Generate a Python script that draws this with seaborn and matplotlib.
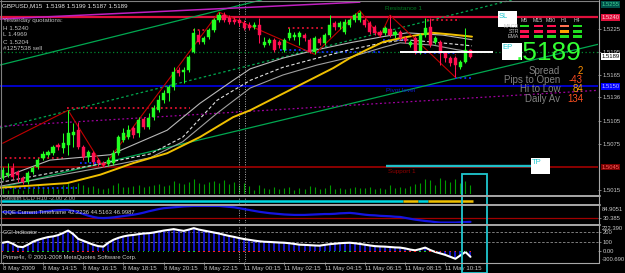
import matplotlib
matplotlib.use("Agg")
import matplotlib.pyplot as plt
from matplotlib.patches import Rectangle
from matplotlib.transforms import blended_transform_factory
import numpy as np
import pandas as pd
import seaborn as sns

sns.set_theme(style="dark", rc={"axes.facecolor": "black", "figure.facecolor": "black"})
plt.rcParams['font.family'] = ['Liberation Sans', 'DejaVu Sans']

# ---------------- data ----------------
symbol_header = "GBPUSD,M15  1.5198 1.5199 1.5187 1.5189"
yesterday_lines = ["Yesterday quotations:", "H 1.5240", "L 1.4969", "C 1.5204", "#1257538 sell"]

time_label_bars = [0, 8, 16, 24, 32, 40, 48, 56, 64, 72, 80, 88]
time_labels = ["8 May 2009", "8 May 14:15", "8 May 16:15", "8 May 18:15", "8 May 20:15",
               "8 May 22:15", "11 May 00:15", "11 May 02:15", "11 May 04:15",
               "11 May 06:15", "11 May 08:15", "11 May 10:15"]
day_separator_bars = [47.0, 48.2]

opens = [1.5031, 1.5035, 1.5044, 1.5038, 1.5031, 1.5025, 1.5038, 1.5045, 1.5057, 1.5061,
         1.5063, 1.5074, 1.5070, 1.5074, 1.5087, 1.5093, 1.5071, 1.5058, 1.5063, 1.5054,
         1.5050, 1.5049, 1.5050, 1.5063, 1.5080, 1.5084, 1.5096, 1.5089, 1.5108, 1.5097,
         1.5110, 1.5119, 1.5132, 1.5142, 1.5149, 1.5172, 1.5169, 1.5172, 1.5195, 1.5217,
         1.5208, 1.5215, 1.5224, 1.5237, 1.5243, 1.5239, 1.5237, 1.5237, 1.5233, 1.5230,
         1.5228, 1.5230, 1.5204, 1.5207, 1.5211, 1.5208, 1.5198, 1.5213, 1.5215, 1.5215,
         1.5217, 1.5211, 1.5195, 1.5212, 1.5207, 1.5217, 1.5233, 1.5228, 1.5221, 1.5230,
         1.5237, 1.5237, 1.5237, 1.5233, 1.5228, 1.5221, 1.5220, 1.5225, 1.5217, 1.5221,
         1.5213, 1.5204, 1.5213, 1.5195, 1.5217, 1.5228, 1.5208, 1.5208, 1.5194, 1.5187,
         1.5187, 1.5175, 1.5182, 1.5198]
highs = [1.5045, 1.5050, 1.5050, 1.5041, 1.5033, 1.5040, 1.5046, 1.5057, 1.5066, 1.5067,
         1.5074, 1.5076, 1.5089, 1.5119, 1.5102, 1.5104, 1.5074, 1.5067, 1.5066, 1.5057,
         1.5053, 1.5058, 1.5067, 1.5087, 1.5096, 1.5100, 1.5098, 1.5110, 1.5110, 1.5115,
         1.5126, 1.5139, 1.5145, 1.5152, 1.5175, 1.5175, 1.5175, 1.5191, 1.5226, 1.5224,
         1.5216, 1.5226, 1.5239, 1.5247, 1.5247, 1.5243, 1.5241, 1.5239, 1.5237, 1.5234,
         1.5234, 1.5239, 1.5215, 1.5213, 1.5213, 1.5211, 1.5213, 1.5226, 1.5221, 1.5222,
         1.5220, 1.5213, 1.5216, 1.5215, 1.5220, 1.5243, 1.5235, 1.5235, 1.5238, 1.5239,
         1.5246, 1.5249, 1.5239, 1.5235, 1.5230, 1.5224, 1.5229, 1.5243, 1.5224, 1.5224,
         1.5216, 1.5211, 1.5216, 1.5220, 1.5239, 1.5239, 1.5216, 1.5211, 1.5196, 1.5190,
         1.5190, 1.5185, 1.5226, 1.5199]
lows = [1.5028, 1.5032, 1.5029, 1.5025, 1.5023, 1.5023, 1.5036, 1.5042, 1.5054, 1.5058,
        1.5061, 1.5067, 1.5063, 1.5061, 1.5071, 1.5068, 1.5054, 1.5051, 1.5049, 1.5046,
        1.5045, 1.5046, 1.5048, 1.5061, 1.5078, 1.5082, 1.5083, 1.5084, 1.5095, 1.5095,
        1.5106, 1.5117, 1.5128, 1.5131, 1.5145, 1.5164, 1.5155, 1.5169, 1.5194, 1.5205,
        1.5205, 1.5212, 1.5221, 1.5234, 1.5234, 1.5232, 1.5232, 1.5229, 1.5224, 1.5224,
        1.5225, 1.5207, 1.5201, 1.5204, 1.5195, 1.5200, 1.5195, 1.5211, 1.5211, 1.5204,
        1.5209, 1.5194, 1.5192, 1.5204, 1.5204, 1.5215, 1.5224, 1.5225, 1.5218, 1.5228,
        1.5234, 1.5234, 1.5228, 1.5218, 1.5217, 1.5215, 1.5217, 1.5215, 1.5213, 1.5211,
        1.5207, 1.5201, 1.5192, 1.5192, 1.5215, 1.5201, 1.5205, 1.5178, 1.5182, 1.5177,
        1.5162, 1.5173, 1.5181, 1.5187]
closes = [1.5041, 1.5037, 1.5032, 1.5035, 1.5025, 1.5037, 1.5044, 1.5054, 1.5062, 1.5065,
          1.5071, 1.5071, 1.5076, 1.5089, 1.5091, 1.5071, 1.5058, 1.5065, 1.5051, 1.5050,
          1.5048, 1.5054, 1.5063, 1.5084, 1.5089, 1.5093, 1.5087, 1.5106, 1.5097, 1.5109,
          1.5122, 1.5132, 1.5142, 1.5149, 1.5169, 1.5168, 1.5172, 1.5188, 1.5220, 1.5208,
          1.5213, 1.5224, 1.5237, 1.5243, 1.5237, 1.5234, 1.5234, 1.5233, 1.5226, 1.5226,
          1.5230, 1.5217, 1.5208, 1.5211, 1.5198, 1.5204, 1.5211, 1.5220, 1.5217, 1.5220,
          1.5213, 1.5195, 1.5213, 1.5207, 1.5217, 1.5230, 1.5228, 1.5233, 1.5234, 1.5237,
          1.5243, 1.5246, 1.5230, 1.5221, 1.5220, 1.5217, 1.5226, 1.5217, 1.5221, 1.5213,
          1.5209, 1.5208, 1.5195, 1.5217, 1.5226, 1.5204, 1.5213, 1.5194, 1.5187, 1.5181,
          1.5178, 1.5182, 1.5198, 1.5189]
volumes = [60, 40, 70, 50, 45, 80, 60, 90, 70, 60,
           75, 55, 90, 120, 80, 110, 95, 70, 85, 60,
           55, 65, 90, 110, 75, 70, 85, 95, 70, 80,
           90, 100, 85, 95, 130, 110, 100, 120, 150, 110,
           100, 120, 130, 110, 140, 100, 120, 90, 110, 80,
           40, 90, 60, 50, 70, 50, 60, 70, 45, 60,
           50, 80, 70, 50, 60, 90, 50, 60, 55, 60,
           70, 65, 60, 70, 55, 60, 50, 90, 60, 70,
           60, 80, 100, 110, 150, 140, 90, 160, 140, 120,
           150, 110, 130, 90]

# moving averages / bands (anchor points: bar index, price)
ma_yellow_bar = [-0.5, 12.8, 19.4, 25.9, 32.7, 39.2, 45.8, 49.2, 59.1, 65.7, 69.0, 72.4, 75.6, 79.0, 82.4, 85.5, 88.9, 93.3]
ma_yellow = [1.5018, 1.5024, 1.5035, 1.5050, 1.5063, 1.5084, 1.5110, 1.5119, 1.5152, 1.5174, 1.5187, 1.5198, 1.5208, 1.5213, 1.5217, 1.5220, 1.5218, 1.5215]
band_up_bar = [-0.5, 9.4, 21.4, 32.7, 39.2, 45.8, 49.2, 55.7, 62.5, 69.0, 75.6, 80.4, 87.5, 93.3]
band_up = [1.5030, 1.5054, 1.5061, 1.5093, 1.5128, 1.5158, 1.5173, 1.5187, 1.5198, 1.5207, 1.5215, 1.5220, 1.5217, 1.5211]
band_mid_bar = [-0.5, 19.4, 29.3, 35.8, 42.6, 49.2, 55.7, 62.5, 69.0, 75.6, 80.0, 85.5, 93.3]
band_mid = [1.5025, 1.5049, 1.5062, 1.5084, 1.5132, 1.5158, 1.5175, 1.5187, 1.5198, 1.5207, 1.5211, 1.5208, 1.5203]
band_low_bar = [-0.5, 19.4, 29.3, 35.8, 42.6, 49.2, 55.7, 62.5, 69.0, 75.6, 79.0, 85.5, 90.3, 93.3]
band_low = [1.5020, 1.5044, 1.5057, 1.5078, 1.5115, 1.5148, 1.5165, 1.5178, 1.5188, 1.5201, 1.5207, 1.5204, 1.5198, 1.5195]

zigzag_bar = [0, 13, 20, 43, 62, 71, 75, 77, 90]
zigzag_price = [1.5076, 1.5119, 1.5045, 1.5247, 1.5192, 1.5249, 1.5215, 1.5243, 1.5162]

# trend lines (bars, prices)
trend_upper = ([-0.54, 51.5], [1.5178, 1.5263])
trend_middle = ([-0.54, 101.3], [1.5096, 1.5263])
trend_lower = ([-0.54, 118.35], [1.5018, 1.5205])
trend_magenta = ([-0.54, 71.0], [1.5238, 1.5260])
trend_magenta_dot = ([-0.54, 118.35], [1.5098, 1.5145])

# horizontal levels
resistance1 = 1.5240
pivot_level = 1.5150
support1 = 1.5045
green_dotted_level = 1.5195

frac_res_start = [0.5, 12.8, 37.8, 56.7, 84.4]
frac_res_end = [12.0, 37.3, 40.7, 63.7, 90.9]
frac_res_price = [1.5057, 1.5122, 1.5224, 1.5226, 1.5237]
frac_sup_start = [0.5, 15.4, 55.1, 62.5, 75.6, 82.0, 89.9]
frac_sup_end = [14.8, 19.3, 60.5, 75.0, 80.0, 89.9, 93.3]
frac_sup_price = [1.5018, 1.5050, 1.5198, 1.5195, 1.5211, 1.5194, 1.5161]

# trade levels
ep_price, ep_start, ep_end = 1.5195, 79.0, 97.5
tp_price, tp_start, tp_end = 1.5046, 76.2, 105.0

# right axis labels
price_ticks = [1.5225, 1.5195, 1.5165, 1.5136, 1.5105, 1.5075, 1.5015]
marked_prices = [1.5257, 1.5240, 1.5189, 1.5150, 1.5045]
marked_labels = ["1.5255", "1.5240", "1.5189", "1.5150", "1.5045"]
marked_bg = ["#00504a", "#e0103c", "#ffffff", "#0000ff", "#7a0000"]
marked_fg = ["#40d090", "#ffd0d8", "#000000", "#c0c0ff", "#ff6060"]

# info panel
info_labels = ["Spread", "Pips to Open", "Hi to Low", "Daily Av"]
info_values = ["2", "-43", "84", "134"]
info_colors = ["#ff9000", "#ff4a20", "#ffa000", "#ff5020"]
big_price = ".5189"
signal_tfs = ["M5", "M15", "M30", "H1", "H4"]
signal_rows = ["MACD", "STR", "EMA"]
signal_colors = [["#20e020", "#ff1050", "#ff1050", "#ff7050", "#20e020"],
                 ["#ff1050", "#ff1050", "#ff1050", "#ffa000", "#20e020"],
                 ["#ff1050", "#20e020", "#20e020", "#20e020", "#20e020"]]

# indicator panels
stealth_seg_start = [-0.5, 79.5, 82.5, 84.5]
stealth_seg_end = [79.5, 82.5, 84.5, 93.5]
stealth_seg_color = ["#00d8e0", "#f0c000", "#00d8e0", "#f0c000"]

qqe = [59, 58, 57, 56, 56, 55, 55, 57, 60, 63,
       65, 67, 68, 68, 64, 58, 50, 43, 37, 33,
       32, 33, 35, 38, 41, 44, 47, 51, 56, 62,
       67, 72, 76, 78, 80, 82, 84, 85, 86, 86,
       86, 86, 86, 86, 84, 82, 80, 76, 72, 68,
       64, 60, 57, 54, 52, 50, 48, 47, 46, 46,
       46, 47, 48, 49, 50, 50, 51, 53, 54, 55,
       53, 50, 47, 45, 44, 42, 41, 40, 38, 37,
       33, 29, 25, 22, 19, 17, 14, 12, 12, 12,
       12, 13, 14, 15]
qqe_level = 30.385

cci = [90, 100, 80, 50, 45, 70, 100, 120, 135, 148,
       155, 168, 190, 215, 180, 130, 110, 90, 70, 55,
       50, 90, 120, 140, 155, 165, 170, 178, 185, 188,
       195, 205, 215, 222, 230, 220, 212, 225, 240, 225,
       215, 205, 195, 185, 172, 160, 150, 138, 128, 120,
       112, 105, 100, 98, 95, 92, 90, 85, 78, 70,
       68, 65, 62, 60, 68, 75, 80, 85, 88, 90,
       85, 78, 70, 62, 55, 52, 50, 46, 42, 40,
       32, 20, 12, 25, 40, 15, -5, -20, -35, -55,
       -75, -40, -5, -55]
cci_levels = [200, 100]

# ---------------- figure ----------------
W, H = 625, 273
fig = plt.figure(figsize=(6.25, 2.73), dpi=100, facecolor='black')


def fa(x0, y0, x1, y1):
    return [x0 / W, 1 - y1 / H, (x1 - x0) / W, (y1 - y0) / H]


XMIN, XMAX = -0.54, 118.35
PMIN, PMAX = 1.50098, 1.52628
GRAYTXT = '#c8c8c8'
BULL, BEAR = '#22ff22', '#ff1050'

ax_vol = fig.add_axes(fa(0, 0, 598, 194))
ax = fig.add_axes(fa(0, 0, 598, 194))
ax_st = fig.add_axes(fa(0, 197, 598, 203.5))
ax_q = fig.add_axes(fa(0, 205.5, 598, 223))
ax_c = fig.add_axes(fa(0, 226, 598, 262))
ov = fig.add_axes([0, 0, 1, 1])

for a in (ax_vol, ax, ax_st, ax_q, ax_c):
    a.set_xlim(XMIN, XMAX)
    a.set_facecolor('black')
    for s in a.spines.values():
        s.set_visible(False)
    a.grid(False)
    a.set_xticks([])
ax.patch.set_alpha(0)
ax_vol.set_zorder(1)
ax.set_zorder(5)
ov.set_zorder(10)
ov.set_xlim(0, W)
ov.set_ylim(H, 0)
ov.axis('off')
ov.patch.set_alpha(0)

bars = np.arange(len(opens))
o, h, l, c = map(np.array, (opens, highs, lows, closes))

# volume
ax_vol.set_ylim(0, 1940)
ax_vol.set_yticks([])
ax_vol.vlines(bars, 0, volumes, colors='#009a00', lw=0.8)

# main price axis
ax.set_ylim(PMIN, PMAX)
ax.yaxis.tick_right()
ax.set_yticks(price_ticks)
ax.set_yticklabels([f"{p:.4f}" for p in price_ticks])
ax.tick_params(axis='y', colors='#909090', labelcolor=GRAYTXT, labelsize=4.2, length=2, width=0.6, pad=1.5, right=True)

# horizontal levels
ax.axhline(green_dotted_level, color='#008a30', lw=0.9, ls=(0, (1, 2)), zorder=2)
ax.axhline(resistance1, color='#e0103c', lw=1.6, zorder=2)
ax.axhline(pivot_level, color='#0000ff', lw=1.1, zorder=2)
ax.axhline(support1, color='#b00000', lw=1.1, zorder=2)

# trend lines
ax.plot(*trend_upper, color='#00a850', lw=0.9, zorder=2)
ax.plot(*trend_middle, color='#00a850', lw=0.9, ls=(0, (2, 2)), zorder=2)
ax.plot(*trend_lower, color='#00a850', lw=0.9, zorder=2)
ax.plot(*trend_magenta, color='#c020c0', lw=1.1, zorder=2)
ax.plot(*trend_magenta_dot, color='#a000a0', lw=0.9, ls=(0, (1.5, 2)), zorder=2)

# fractal dotted levels
ax.hlines(frac_res_price, frac_res_start, frac_res_end, colors='#e01030', lw=1.3, linestyles=(0, (1, 1.6)), zorder=3)
ax.hlines(frac_sup_price, frac_sup_start, frac_sup_end, colors='#1030ff', lw=1.3, linestyles=(0, (1, 1.6)), zorder=3)
ax.vlines(zigzag_bar[-1], zigzag_price[-1], frac_sup_price[-2], colors='#c00000', lw=0.8, linestyles=(0, (1, 1.5)), zorder=3)

# bands and MA
sns.lineplot(x=band_up_bar, y=band_up, ax=ax, color='#b8b8b8', lw=0.8, sort=False, zorder=3)
sns.lineplot(x=band_mid_bar, y=band_mid, ax=ax, color='#e0e0e0', lw=0.8, sort=False, zorder=3, linestyle=(0, (3, 2)))
sns.lineplot(x=band_low_bar, y=band_low, ax=ax, color='#a0a0a0', lw=0.8, sort=False, zorder=3)
sns.lineplot(x=ma_yellow_bar, y=ma_yellow, ax=ax, color='#f0c000', lw=1.4, sort=False, zorder=4)
sns.lineplot(x=zigzag_bar, y=zigzag_price, ax=ax, color='#c00000', lw=0.8, sort=False, zorder=4)

# candles
up = c >= o
col = np.where(up, BULL, BEAR)
ax.vlines(bars, l, h, colors=col, lw=0.75, zorder=6)
body_bottom = np.minimum(o, c)
body_h = np.maximum(np.abs(c - o), 0.00008)
ax.bar(bars, body_h, bottom=body_bottom, width=0.62, color=col, edgecolor=col, lw=0.3, zorder=7)

# trade lines and boxes
ax.hlines(ep_price, ep_start, ep_end, colors='white', lw=1.4, zorder=8)
ax.hlines(tp_price, tp_start, tp_end, colors='#20c0c8', lw=1.7, zorder=8)
for (x0, x1, p0, p1, lab) in [(98.5, 102.3, 1.5228, 1.5248, "SL"), (99.3, 103.2, 1.5185, 1.5207, "EP"),
                              (105.0, 108.8, 1.5036, 1.5057, "TP")]:
    ax.add_patch(Rectangle((x0, p0), x1 - x0, p1 - p0, facecolor='white', edgecolor='none', zorder=9))
    ax.text(x0 + 0.1, p1 - 0.0002, lab, color='#20c8d0', fontsize=5.5, va='top', ha='left', zorder=10)
ax.add_patch(Rectangle((91.3, 1.4907), 5.0, 1.5036 - 1.4907, fill=False, edgecolor='#20c8d0', lw=1.3,
                       clip_on=False, zorder=20))

# level texts
ax.text(76.0, 1.5252, "Resistance 1", color='#007a20', fontsize=4.6, va='center', zorder=3)
ax.text(76.2, 1.5145, "Pivot level", color='#1020d0', fontsize=4.6, va='center', zorder=3)
ax.text(76.6, 1.5039, "Support 1", color='#900000', fontsize=4.6, va='center', zorder=3)

# marked price labels on right axis
bt = blended_transform_factory(ax.transAxes, ax.transData)
for p, lab, bg, fg in zip(marked_prices, marked_labels, marked_bg, marked_fg):
    ax.text(1.006, p, lab, transform=bt, color=fg, fontsize=4.2, va='center', ha='left', clip_on=False,
            bbox=dict(boxstyle='square,pad=0.12', fc=bg, ec='none'), zorder=12)

# day separators
for a in (ax, ax_st, ax_q, ax_c):
    for b in day_separator_bars:
        a.axvline(b, color='#b0b0b0', lw=0.7, ls=(0, (1, 1.5)), zorder=1)

# stealth panel
ax_st.set_ylim(-0.5, 1)
ax_st.set_yticks([])
ax_st.hlines([0] * len(stealth_seg_start), stealth_seg_start, stealth_seg_end, colors=stealth_seg_color, lw=1.8)
ax_st.text(0.005, 0.75, "Stealth LCD H10 -2.00 2.00", transform=ax_st.transAxes, color='#a0a0a0', fontsize=4.2, va='center')

# QQE panel
ax_q.set_ylim(10, 88)
ax_q.axhline(qqe_level, color='#a00000', lw=0.9)
sns.lineplot(x=bars, y=qqe, ax=ax_q, color='#1414e0', lw=1.6)
ax_q.yaxis.tick_right()
ax_q.set_yticks([qqe_level])
ax_q.set_yticklabels([f"{qqe_level:.3f}"])
ax_q.tick_params(axis='y', colors='#909090', labelcolor=GRAYTXT, labelsize=4.2, length=2, width=0.6, pad=1.5)
ax_q.text(1.006, 0.75, "84.9051", transform=ax_q.transAxes, color=GRAYTXT, fontsize=4.2, va='center', clip_on=False)
ax_q.text(0.005, 0.62, "QQE Current Timeframe 42.2236 44.5163 46.9987", transform=ax_q.transAxes,
          color='#d0d0d0', fontsize=4.2, va='center')

# CCI panel
ax_c.set_ylim(-108, 262)
for lv in cci_levels:
    ax_c.axhline(lv, color='#909090', lw=0.6, ls=(0, (3, 2)))
ax_c.vlines(bars, 0, cci, colors='#1a1aff', lw=1.1)
sns.lineplot(x=bars, y=cci, ax=ax_c, color='white', lw=1.5)
dot_col = ['#20d020' if (i > 0 and cci[i] > cci[i - 1]) else '#ff2020' for i in range(len(cci))]
ax_c.scatter(bars, [0] * len(bars), c=dot_col, s=1.2, marker='s', linewidths=0, zorder=5)
ax_c.yaxis.tick_right()
ax_c.set_yticks([200, 100, 0])
ax_c.set_yticklabels(["200", "100", "0.00"])
ax_c.tick_params(axis='y', colors='#909090', labelcolor=GRAYTXT, labelsize=4.2, length=2, width=0.6, pad=1.5)
ax_c.text(1.006, 0.94, "222.390", transform=ax_c.transAxes, color=GRAYTXT, fontsize=4.2, va='center', clip_on=False)
ax_c.text(1.006, 0.08, "-300.690", transform=ax_c.transAxes, color=GRAYTXT, fontsize=4.2, va='center', clip_on=False)
ax_c.text(0.005, 0.82, "CCI Indicator", transform=ax_c.transAxes, color='#d0d0d0', fontsize=4.2, va='center')
ax_c.text(0.005, 0.13, "Prime4x, \u00a9 2001-2008 MetaQuotes Software Corp.", transform=ax_c.transAxes,
          color='#d0d0d0', fontsize=4.2, va='center', zorder=6)
ax_c.set_xticks(time_label_bars)
ax_c.set_xticklabels(time_labels)
ax_c.tick_params(axis='x', colors='#909090', labelcolor=GRAYTXT, labelsize=4.4, length=2, width=0.6, pad=1.2, bottom=True)
for t in ax_c.get_xticklabels():
    t.set_ha('left')

# ---------------- overlay: frames, header, info panel ----------------
sep = '#a8a8a8'
ov.plot([0, 600], [195.5, 195.5], color=sep, lw=1.4)
ov.plot([0, 600], [204.5, 204.5], color=sep, lw=1.4)
ov.plot([0, 600], [224.5, 224.5], color=sep, lw=1.4)
ov.plot([0, 598.5], [262.5, 262.5], color=sep, lw=0.8)
ov.plot([598.5, 598.5], [0, 263], color=sep, lw=0.8)
ov.plot([0.5, 0.5], [0, 263], color='#808080', lw=0.8)
ov.plot([0, 598], [0.5, 0.5], color='#808080', lw=0.8)

ov.text(2, 6, symbol_header, color='#e8e8e8', fontsize=4.5, va='center', ha='left')
for k, line in enumerate(yesterday_lines):
    ov.text(3, [20.5, 28, 35, 42.5, 48][k], line, color='#c0c0c0', fontsize=4.5, va='center', ha='left')

ov.text(582, 53, big_price, color='#33ff33', fontsize=19, va='center', ha='right')
for k, (lab, val, vc) in enumerate(zip(info_labels, info_values, info_colors)):
    yy = 70.5 + k * 9.5
    ov.text(560, yy, lab, color='#808080', fontsize=7, va='center', ha='right')
    ov.text(583, yy, val, color=vc, fontsize=7, va='center', ha='right')

tf_x = [524, 538, 551, 564, 577]
for x, tf in zip(tf_x, signal_tfs):
    ov.text(x, 21, tf, color='#d0d0d0', fontsize=3.8, va='center', ha='center')
for r, (rl, rowc) in enumerate(zip(signal_rows, signal_colors)):
    yy = 26 + r * 5.2
    ov.text(519, yy, rl, color='#c0c0c0', fontsize=3.8, va='center', ha='right')
    for x, cc in zip(tf_x, rowc):
        ov.add_patch(Rectangle((x - 4.5, yy - 1.3), 9, 2.6, facecolor=cc, edgecolor='none'))

fig.savefig("out.png", dpi=100, facecolor='black')
